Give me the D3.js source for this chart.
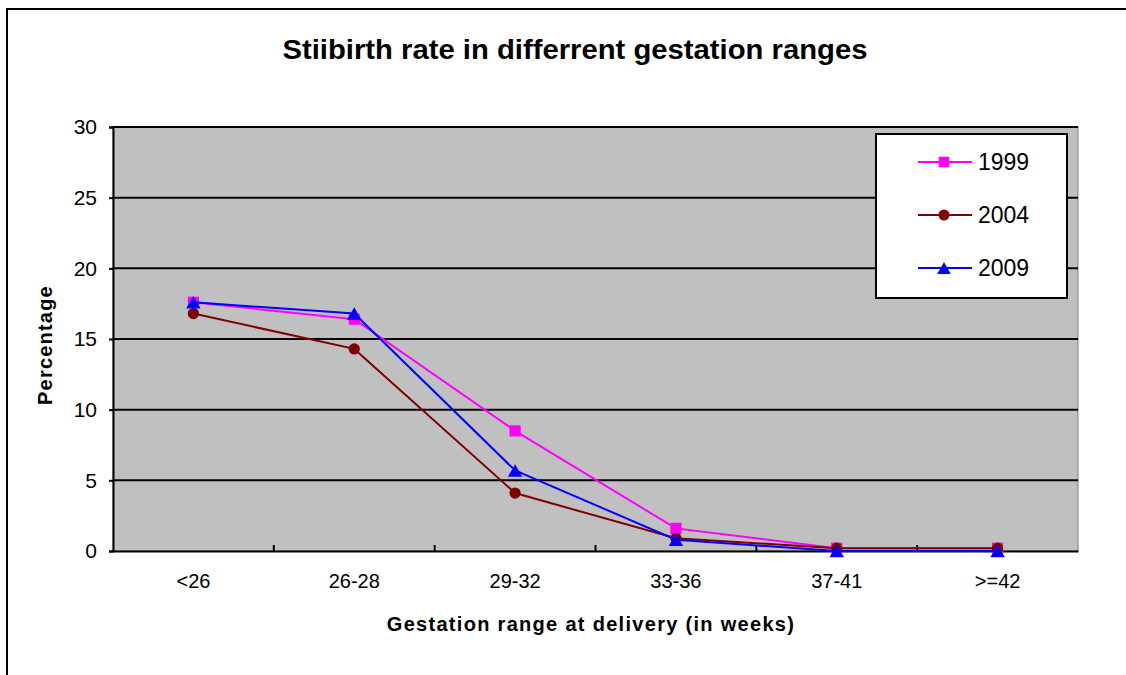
<!DOCTYPE html>
<html><head><meta charset="utf-8">
<script src="https://cdn.jsdelivr.net/npm/d3@7"></script>
<style>body{margin:0;background:#fff}svg{display:block}text{font-family:"Liberation Sans",Arial,sans-serif}</style>
</head><body><svg id="c" width="1126" height="675"></svg>
<script>
const categories = ["<26","26-28","29-32","33-36","37-41",">=42"];
const s1999 = [17.6,16.4,8.5,1.6,0.2,0.2];
const s2004 = [16.8,14.3,4.1,0.9,0.2,0.2];
const s2009 = [17.6,16.8,5.7,0.8,0.0,0.0];
const yTicks = [0,5,10,15,20,25,30];
const seriesNames = ["1999","2004","2009"];

const series = [
  {name:seriesNames[0], values:s1999, color:"#ff00ff", shape:d3.symbolSquare, size:125, lsize:110},
  {name:seriesNames[1], values:s2004, color:"#800000", shape:d3.symbolCircle, size:100, lsize:95},
  {name:seriesNames[2], values:s2009, color:"#0000ff", shape:d3.symbolTriangle, size:90, lsize:80}
];
// vertical shift so triangle's bounding box (not centroid) is centred on the point
function yShift(s, size){
  if (s.shape !== d3.symbolTriangle) return 0;
  const a = Math.sqrt(4*size/Math.sqrt(3)), h = a*Math.sqrt(3)/2;
  return h/6;
}

const svg = d3.select("#c");
const L=113, R=1078, T=127, B=551;

svg.append("rect").attr("x",7).attr("y",9).attr("width",1130).attr("height",700)
  .attr("fill","#fff").attr("stroke","#000").attr("stroke-width",2);

svg.append("text").attr("x",575).attr("y",59).attr("text-anchor","middle")
  .attr("font-size",27).attr("font-weight","bold").attr("textLength",585).attr("lengthAdjust","spacingAndGlyphs")
  .text("Stiibirth rate in differrent gestation ranges");

const x = d3.scaleBand().domain(categories).range([L,R]).padding(0);
const y = d3.scaleLinear().domain([0,30]).range([B,T]);

svg.append("rect").attr("x",L).attr("y",T).attr("width",R-L).attr("height",B-T)
  .attr("fill","#c0c0c0").attr("stroke","#808080").attr("stroke-width",1);

svg.append("g").selectAll("line").data(yTicks.filter(d=>d>0)).join("line")
  .attr("x1",L).attr("x2",R).attr("y1",d=>y(d)).attr("y2",d=>y(d))
  .attr("stroke","#000").attr("stroke-width",2);

// y axis
const ya = svg.append("g").attr("transform",`translate(${L},0)`)
  .call(d3.axisLeft(y).tickValues(yTicks).tickSize(4).tickPadding(12));
ya.select(".domain").attr("stroke","#000").attr("stroke-width",2);
ya.selectAll("line").attr("stroke","#000").attr("stroke-width",2);
ya.selectAll("text").attr("font-size",21).attr("fill","#000").attr("font-family","Liberation Sans, Arial, sans-serif");

// x axis
const xa = svg.append("g").attr("transform",`translate(0,${B})`)
  .call(d3.axisBottom(x).tickSize(0).tickPadding(23));
xa.select(".domain").attr("stroke","#000").attr("stroke-width",2);
xa.selectAll("text").attr("font-size",20).attr("fill","#000").attr("font-family","Liberation Sans, Arial, sans-serif");
// boundary ticks (inside)
svg.append("g").selectAll("line").data(categories.slice(1)).join("line")
  .attr("x1",d=>x(d)).attr("x2",d=>x(d)).attr("y1",B).attr("y2",B-6)
  .attr("stroke","#000").attr("stroke-width",2);

svg.append("text").attr("x",591).attr("y",631).attr("text-anchor","middle")
  .attr("font-size",20).attr("font-weight","bold").attr("letter-spacing",1.3)
  .text("Gestation range at delivery (in weeks)");
svg.append("text").attr("transform","translate(52,345) rotate(-90)").attr("text-anchor","middle")
  .attr("font-size",20).attr("font-weight","bold").attr("letter-spacing",1.2).text("Percentage");

const line = d3.line().x((d,i)=>x(categories[i])+x.bandwidth()/2).y(d=>y(d));
series.forEach(s=>{
  const g = svg.append("g");
  g.append("path").datum(s.values).attr("d",line).attr("fill","none")
    .attr("stroke",s.color).attr("stroke-width",2);
  const dy = yShift(s, s.size);
  g.selectAll("path.m").data(s.values).join("path").attr("class","m")
    .attr("transform",(d,i)=>`translate(${x(categories[i])+x.bandwidth()/2},${y(d)+dy})`)
    .attr("d",d3.symbol().type(s.shape).size(s.size)).attr("fill",s.color);
});

// legend
const lg = svg.append("g");
lg.append("rect").attr("x",876).attr("y",134).attr("width",191).attr("height",164)
  .attr("fill","#fff").attr("stroke","#000").attr("stroke-width",2);
series.forEach((s,i)=>{
  const yy = 162 + i*53;
  lg.append("line").attr("x1",918).attr("x2",972).attr("y1",yy).attr("y2",yy)
    .attr("stroke",s.color).attr("stroke-width",2);
  lg.append("path").attr("transform",`translate(944,${yy + yShift(s, s.lsize)})`)
    .attr("d",d3.symbol().type(s.shape).size(s.lsize)).attr("fill",s.color);
  lg.append("text").attr("x",978).attr("y",yy+8).attr("font-size",23).text(s.name);
});
</script></body></html>
